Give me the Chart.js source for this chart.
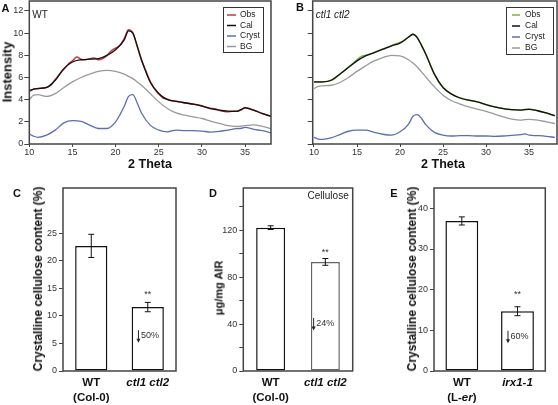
<!DOCTYPE html>
<html>
<head>
<meta charset="utf-8">
<script src="https://cdn.jsdelivr.net/npm/chart.js@4.4.0/dist/chart.umd.min.js"></script>
<style>
  html, body { margin: 0; padding: 0; background: #fff; }
  body { width: 558px; height: 405px; position: relative; overflow: hidden;
         font-family: Arial, "Liberation Sans", sans-serif; color: #111; }
  canvas { position: absolute; }
  .lbl { position: absolute; transform: translate(-50%, -50%); white-space: nowrap;
         font-weight: bold; line-height: 1; }
  .rot { transform: translate(-50%, -50%) rotate(-90deg); }
</style>
</head>
<body>
<canvas id="xrdA" width="280" height="160" style="left:0;top:0"></canvas>
<canvas id="xrdB" width="278" height="160" style="left:280px;top:0"></canvas>
<canvas id="barC" width="190" height="225" style="left:0;top:180px"></canvas>
<canvas id="barD" width="170" height="225" style="left:190px;top:180px"></canvas>
<canvas id="barE" width="198" height="225" style="left:360px;top:180px"></canvas>

<div class="lbl" style="left:5.5px;top:7.5px;font-size:11px">A</div>
<div class="lbl" style="left:300px;top:7px;font-size:11px">B</div>
<div class="lbl" style="left:17px;top:193px;font-size:11px">C</div>
<div class="lbl" style="left:213px;top:193px;font-size:11px">D</div>
<div class="lbl" style="left:394px;top:193px;font-size:11px">E</div>

<div class="lbl rot" style="left:7px;top:72px;font-size:13px">Instensity</div>
<div class="lbl" style="left:150px;top:163.5px;font-size:12.5px">2 Theta</div>
<div class="lbl" style="left:443px;top:163.5px;font-size:12.5px">2 Theta</div>
<div class="lbl rot" style="left:38px;top:279px;font-size:12px">Crystalline cellulose content (%)</div>
<div class="lbl rot" style="left:219px;top:288px;font-size:11px">μg/mg AIR</div>
<div class="lbl rot" style="left:412px;top:279px;font-size:12px">Crystalline cellulose content (%)</div>

<script>
// =============================================
// Data
// =============================================

const seriesNames = ['Obs', 'Cal', 'Cryst', 'BG'];

const theta = [10, 10.5, 11, 12, 13, 14, 15, 16, 17, 18, 19, 20, 21, 21.5, 22, 22.5,
  23, 24, 25, 26, 27, 28, 29, 30, 31, 32, 33, 34, 34.5, 35, 36, 37, 38];

const thetaObs = [10, 10.5, 11, 11.5, 12, 12.5, 13, 13.5, 14, 14.5, 15, 15.5, 16, 16.5,
  17, 17.5, 18, 18.5, 19, 19.5, 20, 20.5, 21, 21.5, 22, 22.5, 23, 23.5, 24, 24.5, 25,
  25.5, 26, 26.5, 27, 27.5, 28, 28.5, 29, 29.5, 30, 30.5, 31, 31.5, 32, 32.5, 33, 33.5,
  34, 34.5, 35, 35.5, 36, 36.5, 37, 37.5, 38];

// WT
const obsWT = [4.75, 4.95, 5.0, 5.05, 5.1, 5.3, 5.8, 6.3, 6.75, 7.2,
  7.5, 7.85, 7.65, 7.6, 7.7, 7.75, 7.6, 7.7, 8.0, 8.4,
  8.65, 8.9, 9.5, 10.3, 10.0, 8.8, 7.55, 6.6, 5.65, 5.0,
  4.5, 4.15, 4.05, 3.9, 3.85, 3.8, 3.7, 3.65, 3.58, 3.55,
  3.45, 3.3, 3.2, 3.18, 3.05, 2.95, 2.9, 2.95, 2.95, 3.05,
  3.3, 3.2, 3.05, 2.9, 2.75, 2.62, 2.5];
const calWT = [4.8, 4.95, 5.0, 5.1, 5.75, 6.8, 7.4, 7.6, 7.65, 7.7, 8.0, 8.5, 9.4,
  10.2, 10.0, 8.85, 7.6, 5.6, 4.55, 4.0, 3.85, 3.72, 3.6, 3.42, 3.2, 3.06, 2.97, 2.95,
  3.1, 3.25, 3.05, 2.75, 2.5];
const crystWT = [0.9, 0.7, 0.6, 0.8, 1.25, 1.9, 2.1, 2.05, 1.7, 1.4, 1.4, 2.0, 3.4,
  4.3, 4.45, 3.7, 2.8, 1.7, 1.25, 1.1, 1.25, 1.2, 1.2, 1.17, 1.08, 1.14, 1.26, 1.38,
  1.4, 1.5, 1.32, 1.2, 1.0];
const bgWT = [4.0, 4.4, 4.45, 4.3, 4.55, 5.1, 5.6, 6.0, 6.3, 6.55, 6.65, 6.55, 6.3,
  6.1, 5.9, 5.6, 5.3, 4.55, 3.8, 3.2, 2.8, 2.6, 2.45, 2.3, 2.07, 1.86, 1.65, 1.58,
  1.6, 1.65, 1.72, 1.58, 1.4];

// ctl1 ctl2
const obsCtl = [5.6, 5.58, 5.6, 5.65, 5.75, 5.95, 6.3, 6.6, 6.95, 7.25,
  7.6, 7.9, 8.0, 8.1, 8.25, 8.4, 8.55, 8.7, 8.85, 9.05,
  9.15, 9.35, 9.65, 9.9, 9.6, 8.9, 8.1, 7.2, 6.3, 5.6,
  5.1, 4.75, 4.5, 4.3, 4.15, 4.05, 3.95, 3.88, 3.8, 3.68,
  3.55, 3.45, 3.35, 3.28, 3.2, 3.15, 3.1, 3.08, 3.06, 3.12,
  3.15, 3.08, 3.0, 2.9, 2.8, 2.68, 2.55];
const calCtl = [5.6, 5.6, 5.6, 5.75, 6.3, 6.9, 7.5, 7.95, 8.25, 8.55, 8.85, 9.1, 9.65,
  9.9, 9.6, 8.9, 8.1, 6.3, 5.1, 4.5, 4.15, 3.95, 3.8, 3.55, 3.35, 3.2, 3.1, 3.06,
  3.1, 3.12, 3.0, 2.8, 2.55];
const crystCtl = [0.6, 0.45, 0.42, 0.55, 0.85, 1.15, 1.25, 1.25, 1.05, 0.88, 0.8, 1.1, 1.8,
  2.5, 2.65, 2.3, 1.75, 1.05, 0.8, 0.72, 0.75, 0.75, 0.72, 0.72, 0.69, 0.72, 0.78, 0.84,
  0.92, 0.8, 0.75, 0.69, 0.6];
const bgCtl = [5.0, 5.2, 5.25, 5.3, 5.55, 6.0, 6.55, 7.05, 7.5, 7.8, 8.0, 7.95, 7.6,
  7.3, 6.95, 6.5, 6.05, 5.15, 4.4, 3.9, 3.6, 3.35, 3.15, 2.95, 2.7, 2.45, 2.25, 2.15,
  2.2, 2.22, 2.15, 2.0, 1.85];

const xTicksXrd = [10, 15, 20, 25, 30, 35];
const yTicksXrd = [0, 2, 4, 6, 8, 10, 12];

// bar panels
const groupsCol = [['WT', '(Col-0)'], ['ctl1 ctl2']];
const groupsLer = [['WT', '(L-er)'], ['irx1-1']];

const crystC = [22.7, 11.6];
const errC = [2.1, 0.85];
const yTicksC = [0, 5, 10, 15, 20, 25];

const celluloseD = [122.2, 93];
const errD = [1.6, 2.9];
const yTicksD = [0, 20, 40, 60, 80, 100, 120, 140];

const crystE = [36.9, 14.7];
const errE = [1.0, 1.1];
const yTicksE = [0, 10, 20, 30, 40];

const italicParts = ['ctl1 ctl2', 'irx1-1', 'er'];

// =============================================
// Figure Module
// =============================================

const FONT = 'Arial, "Liberation Sans", sans-serif';
Chart.defaults.font.family = FONT;

const Figure = {
  extras: {},

  load() {
    Chart.register(this.decorPlugin());

    this.renderXrd('xrdA', {
      obs: obsWT, cal: calWT, cryst: crystWT, bg: bgWT, obsColor: '#c8373f',
      xMin: 10, xMax: 38, yWidth: 29.3, yLabels: true, padRight: 9,
      tag: 'WT', italic: false,
      legend: { right: 8, top: 7, w: 40, h: 45, row0: 8, step: 10.5, x0: 4, x1: 13, tx: 17 }
    });
    this.renderXrd('xrdB', {
      obs: obsCtl, cal: calCtl, cryst: crystCtl, bg: bgCtl, obsColor: '#7cb342',
      xMin: 9.85, xMax: 38.25, yWidth: 32.7, yLabels: false, padRight: 1,
      tag: 'ctl1 ctl2', italic: true,
      legend: { right: 4, top: 7, w: 47, h: 47, row0: 8, step: 11, x0: 6, x1: 14, tx: 19 }
    });

    this.renderBar('barC', {
      groups: groupsCol, values: crystC, err: errC, yMax: 33.2, yTicks: yTicksC,
      yWidth: 63, padRight: 14, barPct: 0.57, borders: ['#111', '#111'],
      starsGap: 8, drop: { index: 1, text: '50%', value: 7.4, dx: -9.3 }
    });
    this.renderBar('barD', {
      groups: groupsCol, values: celluloseD, err: errD, yMax: 156, yTicks: yTicksD,
      yWidth: 53.3, padRight: 7.3, barPct: 0.53, borders: ['#111', '#666'],
      tickLabel: v => (v % 40 === 0 ? v : ''),
      starsGap: 6, drop: { index: 1, text: '24%', value: 45.2, dx: -11.7 },
      note: 'Cellulose'
    });
    this.renderBar('barE', {
      groups: groupsLer, values: crystE, err: errE, yMax: 45, yTicks: yTicksE,
      yWidth: 74, padRight: 12.7, barPct: 0.59, borders: ['#111', '#111'],
      starsGap: 12, drop: { index: 1, text: '60%', value: 9.9, dx: -9.5 }
    });
  },

  zip(xs, ys) {
    return xs.map((x, i) => ({ x, y: ys[i] }));
  },

  renderXrd(id, o) {
    this.extras[id] = { kind: 'xrd', tag: o.tag, italic: o.italic, legend: o.legend };
    const line = (label, data, color, width, order) => ({
      label, data, borderColor: color, borderWidth: width, order,
      pointRadius: 0, fill: false, cubicInterpolationMode: 'monotone'
    });

    new Chart(document.getElementById(id), {
      type: 'line',
      data: {
        datasets: [
          line('Obs', this.zip(thetaObs, o.obs), o.obsColor, 1.5, 2),
          line('Cal', this.zip(theta, o.cal), '#111', 1.3, 1),
          line('Cryst', this.zip(theta, o.cryst), '#5b6eb2', 1.3, 3),
          line('BG', this.zip(theta, o.bg), '#9a9a9a', 1.3, 4)
        ]
      },
      options: {
        responsive: false, animation: false, devicePixelRatio: 1,
        layout: { padding: { top: 1, right: o.padRight, bottom: 0, left: 0 } },
        plugins: { legend: { display: false }, tooltip: { enabled: false } },
        scales: {
          x: {
            type: 'linear', min: o.xMin, max: o.xMax,
            afterBuildTicks: s => { s.ticks = xTicksXrd.map(v => ({ value: v })); },
            afterFit: s => { s.height = 16; s.paddingLeft = 0; s.paddingRight = 0; },
            grid: { display: true, drawOnChartArea: false, tickLength: 3, color: '#444' },
            border: { display: false },
            ticks: { font: { size: 9 }, color: '#333', padding: 0, maxRotation: 0, autoSkip: false }
          },
          y: {
            min: 0, max: 12.9,
            afterBuildTicks: s => { s.ticks = yTicksXrd.map(v => ({ value: v })); },
            afterFit: s => { s.width = o.yWidth; s.paddingTop = 0; s.paddingBottom = 0; },
            grid: { display: true, drawOnChartArea: false, tickLength: 5, color: '#444' },
            border: { display: false },
            ticks: { display: o.yLabels, font: { size: 9 }, color: '#333', padding: 1 }
          }
        }
      }
    });
  },

  renderBar(id, o) {
    this.extras[id] = {
      kind: 'bar', err: o.err, groups: o.groups, starsGap: o.starsGap,
      drop: o.drop, note: o.note
    };

    new Chart(document.getElementById(id), {
      type: 'bar',
      data: {
        labels: o.groups,
        datasets: [{
          data: o.values,
          backgroundColor: '#fff',
          borderColor: o.borders,
          borderWidth: 1.5,
          borderSkipped: false,
          barPercentage: o.barPct,
          categoryPercentage: 1
        }]
      },
      options: {
        responsive: false, animation: false, devicePixelRatio: 1,
        layout: { padding: { top: 8, right: o.padRight, bottom: 34, left: 0 } },
        plugins: { legend: { display: false }, tooltip: { enabled: false } },
        scales: {
          x: { display: false },
          y: {
            min: 0, max: o.yMax,
            afterBuildTicks: s => { s.ticks = o.yTicks.map(v => ({ value: v })); },
            afterFit: s => { s.width = o.yWidth; s.paddingTop = 0; s.paddingBottom = 0; },
            grid: { display: true, drawOnChartArea: false, tickLength: 4, color: '#444' },
            border: { display: false },
            ticks: { font: { size: 9 }, color: '#333', padding: 2, callback: o.tickLabel || (v => v) }
          }
        }
      }
    });
  },

  // text with some words set in italic (gene names, "er")
  drawRich(ctx, text, cx, cy, size) {
    const parts = [];
    let rest = text;
    while (rest.length) {
      let hit = null;
      italicParts.forEach(p => {
        const at = rest.indexOf(p);
        if (at >= 0 && (!hit || at < hit.at)) hit = { at, p };
      });
      if (!hit) { parts.push({ t: rest, i: false }); break; }
      if (hit.at > 0) parts.push({ t: rest.slice(0, hit.at), i: false });
      parts.push({ t: hit.p, i: true });
      rest = rest.slice(hit.at + hit.p.length);
    }
    const fontOf = p => `${p.i ? 'italic ' : ''}bold ${size}px ${FONT}`;
    let total = 0;
    parts.forEach(p => { ctx.font = fontOf(p); p.w = ctx.measureText(p.t).width; total += p.w; });
    let x = cx - total / 2;
    ctx.textAlign = 'left';
    ctx.textBaseline = 'middle';
    parts.forEach(p => { ctx.font = fontOf(p); ctx.fillText(p.t, x, cy); x += p.w; });
  },

  decorPlugin() {
    const self = this;
    return {
      id: 'decor',
      afterDraw(chart) {
        const ex = self.extras[chart.canvas.id];
        if (!ex) return;
        const { ctx, chartArea: a } = chart;
        ctx.save();
        ctx.strokeStyle = '#444';
        ctx.lineWidth = 1.5;
        ctx.strokeRect(a.left, a.top, a.right - a.left, a.bottom - a.top);
        if (ex.kind === 'xrd') self.drawXrdExtras(chart, ex);
        else self.drawBarExtras(chart, ex);
        ctx.restore();
      }
    };
  },

  drawXrdExtras(chart, ex) {
    const { ctx, chartArea: a } = chart;
    ctx.fillStyle = '#222';
    ctx.textAlign = 'left';
    ctx.textBaseline = 'middle';
    ctx.font = `${ex.italic ? 'italic ' : ''}10px ${FONT}`;
    ctx.fillText(ex.tag, a.left + 3, 15);

    const L = ex.legend;
    const bx = a.right - L.right - L.w;
    const by = L.top;
    ctx.fillStyle = '#fff';
    ctx.fillRect(bx, by, L.w, L.h);
    ctx.strokeStyle = '#333';
    ctx.lineWidth = 1;
    ctx.strokeRect(bx + 0.5, by + 0.5, L.w, L.h);
    ctx.font = `8.5px ${FONT}`;
    seriesNames.forEach((name, i) => {
      const ds = chart.data.datasets.find(d => d.label === name);
      const y = by + L.row0 + i * L.step;
      ctx.strokeStyle = ds.borderColor;
      ctx.lineWidth = 1.5;
      ctx.beginPath();
      ctx.moveTo(bx + L.x0, y);
      ctx.lineTo(bx + L.x1, y);
      ctx.stroke();
      ctx.fillStyle = '#222';
      ctx.fillText(name, bx + L.tx, y);
    });
  },

  drawBarExtras(chart, ex) {
    const { ctx, chartArea: a } = chart;
    const yScale = chart.scales.y;
    const bars = chart.getDatasetMeta(0).data;
    const values = chart.data.datasets[0].data;

    ctx.strokeStyle = '#111';
    ctx.lineWidth = 1;
    bars.forEach((bar, i) => {
      const top = yScale.getPixelForValue(values[i] + ex.err[i]);
      const bot = yScale.getPixelForValue(values[i] - ex.err[i]);
      ctx.beginPath();
      ctx.moveTo(bar.x, top); ctx.lineTo(bar.x, bot);
      ctx.moveTo(bar.x - 3, top); ctx.lineTo(bar.x + 3, top);
      ctx.moveTo(bar.x - 3, bot); ctx.lineTo(bar.x + 3, bot);
      ctx.stroke();
    });

    // significance stars + drop annotation on the mutant bar
    const d = ex.drop;
    const mut = bars[d.index];
    const errTop = yScale.getPixelForValue(values[d.index] + ex.err[d.index]);
    ctx.fillStyle = '#333';
    ctx.font = `9px ${FONT}`;
    ctx.textAlign = 'center';
    ctx.textBaseline = 'middle';
    ctx.fillText('**', mut.x, errTop - ex.starsGap);

    const ax = mut.x + d.dx;
    const ay = yScale.getPixelForValue(d.value);
    ctx.strokeStyle = '#222';
    ctx.beginPath();
    ctx.moveTo(ax, ay); ctx.lineTo(ax, ay + 11);
    ctx.stroke();
    ctx.fillStyle = '#222';
    ctx.beginPath();
    ctx.moveTo(ax - 2, ay + 8.5); ctx.lineTo(ax + 2, ay + 8.5); ctx.lineTo(ax, ay + 12.5);
    ctx.closePath();
    ctx.fill();
    ctx.fillStyle = '#333';
    ctx.textAlign = 'left';
    ctx.fillText(d.text, ax + 2.5, ay + 5.5);

    if (ex.note) {
      ctx.font = `10px ${FONT}`;
      ctx.textAlign = 'right';
      ctx.fillStyle = '#222';
      ctx.fillText(ex.note, a.right - 4, a.top + 8);
    }

    // category labels under the bars
    ctx.fillStyle = '#111';
    bars.forEach((bar, i) => {
      ex.groups[i].forEach((text, j) => {
        this.drawRich(ctx, text, bar.x, 203 + j * 15, 11.5);
      });
    });
  }
};

Figure.load();
</script>
</body>
</html>
